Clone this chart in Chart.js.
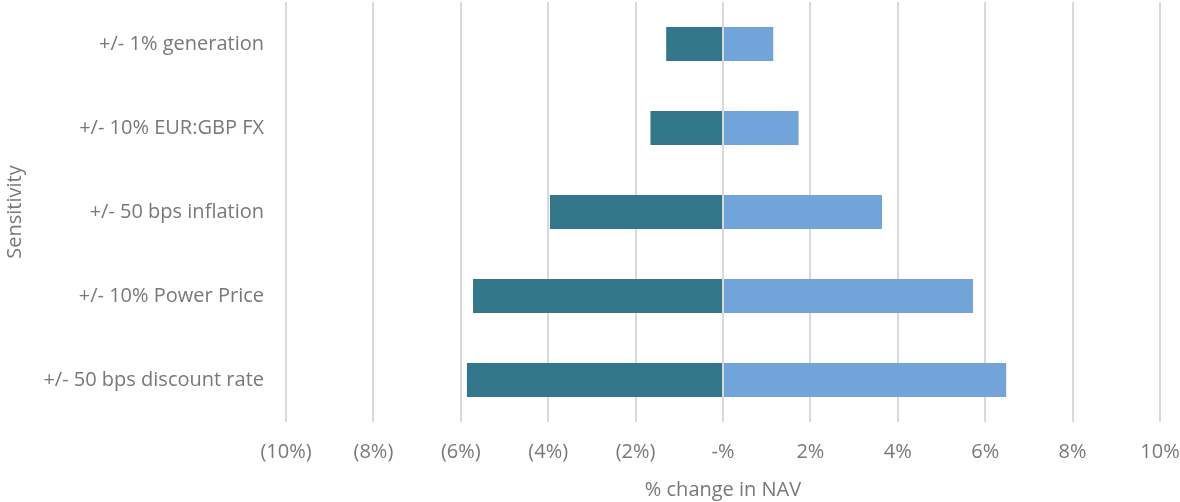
<!DOCTYPE html>
<html>
<head>
<meta charset="utf-8">
<script src="https://cdn.jsdelivr.net/npm/chart.js@4"></script>
<style>
  html, body { margin: 0; padding: 0; background: #fff; }
  #wrap { width: 1180px; height: 502px; }
</style>
</head>
<body>
<div id="wrap"><canvas id="sensitivitySection"></canvas></div>
<script>
const categories = ["+/- 1% generation", "+/- 10% EUR:GBP FX", "+/- 50 bps inflation", "+/- 10% Power Price", "+/- 50 bps discount rate"];
const downside = [-1.30, -1.66, -3.96, -5.72, -5.86];
const upside = [1.15, 1.73, 3.64, 5.72, 6.48];
const tickValues = [-10, -8, -6, -4, -2, 0, 2, 4, 6, 8, 10];

const grey = '#787878';
const fontFamily = "'Open Sans', 'Noto Sans', sans-serif";

function pct(v) {
    if (v === 0) return '-%';
    if (v < 0) return '(' + Math.abs(v) + '%)';
    return v + '%';
}

const ctx = document.getElementById("sensitivitySection");
let sensitivitySection = new Chart(ctx, {
    type: 'bar',
    data: {
        labels: categories,
        datasets: [
            {
                label: "Downside",
                backgroundColor: '#33778A',
                data: downside
            },
            {
                label: "Upside",
                backgroundColor: '#71A5D9',
                data: upside
            }
        ]
    },
    options: {
        indexAxis: 'y',
        responsive: true,
        maintainAspectRatio: false,
        animation: false,
        layout: { padding: { top: 2, right: 20, left: 0, bottom: 0 } },
        plugins: {
            legend: { display: false },
            tooltip: { enabled: false }
        },
        datasets: {
            bar: { categoryPercentage: 0.405, barPercentage: 1 }
        },
        scales: {
            x: {
                stacked: true,
                min: -10,
                max: 10,
                afterBuildTicks: function (scale) {
                    scale.ticks = tickValues.map(v => ({ value: v }));
                },
                afterFit: function (scale) {
                    scale.height = 80;
                    scale.paddingLeft = 0;
                    scale.paddingRight = 0;
                },
                grid: { color: '#d9d9d9', lineWidth: 2, drawTicks: false },
                border: { display: false },
                ticks: {
                    color: grey,
                    padding: 18,
                    maxRotation: 0,
                    font: { family: fontFamily, size: 20 },
                    callback: function (v) { return pct(v); }
                },
                title: {
                    display: true,
                    text: '% change in NAV',
                    color: grey,
                    font: { family: fontFamily, size: 20 },
                    padding: { top: 0, bottom: 0 }
                }
            },
            y: {
                stacked: true,
                afterFit: function (scale) {
                    scale.width = 286;
                    scale.paddingTop = 0;
                    scale.paddingBottom = 0;
                },
                grid: { display: false },
                border: { display: false },
                ticks: {
                    color: grey,
                    padding: 14,
                    font: { family: fontFamily, size: 20 }
                },
                title: {
                    display: true,
                    text: 'Sensitivity',
                    color: grey,
                    font: { family: fontFamily, size: 20 },
                    padding: { top: 3, bottom: 0 }
                }
            }
        }
    }
});
</script>
</body>
</html>
